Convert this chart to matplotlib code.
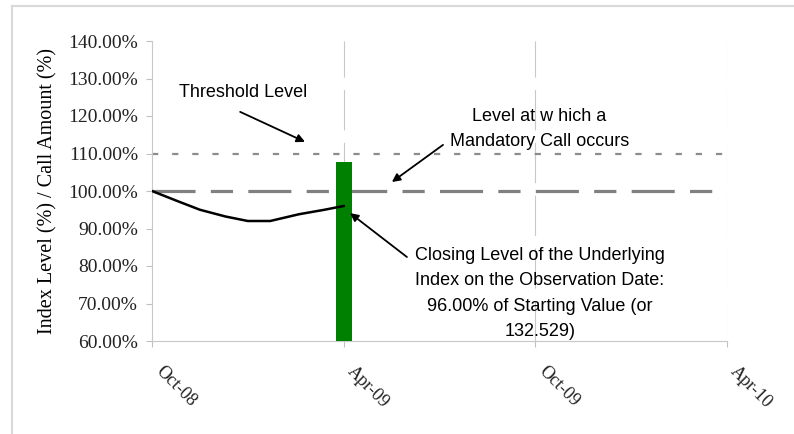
import numpy as np
import matplotlib
matplotlib.use('Agg')
import matplotlib.pyplot as plt
from matplotlib.lines import Line2D
from matplotlib.transforms import ScaledTranslation

plt.rcParams['lines.scale_dashes'] = False

# months after Oct-08
tick_pos = [0, 6, 12, 18]
tick_labels = ['Oct-08', 'Apr-09', 'Oct-09', 'Apr-10']
index_months = [0, 0.8, 1.5, 2.3, 3.0, 3.7, 4.6, 5.4, 6.0]
index_level = [100.0, 97.3, 95.0, 93.2, 92.0, 92.0, 93.8, 95.0, 96.0]
call_month = [6.0]
call_amount = [107.7]
threshold = 110.0
call_level = 100.0
y_ticks = [60, 70, 80, 90, 100, 110, 120, 130, 140]

serif = 'Liberation Serif'
sans = 'Liberation Sans'

fig = plt.figure(figsize=(7.94, 4.34), dpi=100)
ax = fig.add_axes([152/794, 1-341/434, 575/794, 300/434])

# outer chart border
fig.add_artist(Line2D([12/794, 12/794], [0, 1-6/434], color='#d9d9d9', lw=1.5))
fig.add_artist(Line2D([12/794, 1], [1-6/434, 1-6/434], color='#d9d9d9', lw=1.5))

ax.bar(call_month, [a - 60 for a in call_amount], bottom=60, width=0.5,
       color='#008000', zorder=3)
ax.plot([0, 18], [threshold, threshold], color='#8c8c8c', lw=1.6,
        dashes=(4.5, 10), zorder=2)
ax.plot([0, 18], [call_level, call_level], color='#808080', lw=2.3,
        dashes=(31, 11, 16, 11), zorder=2)
ax.plot(index_months, index_level, color='black', lw=1.8, zorder=4,
        solid_joinstyle='round')

for x in tick_pos[1:]:
    ax.axvline(x, color='#c8c8c8', lw=0.8, dashes=(29, 9), zorder=1)

ax.set_xlim(0, 18)
ax.set_ylim(60, 140)
ax.set_yticks(y_ticks)
ax.set_yticklabels(['%.2f%%' % v for v in y_ticks], fontsize=14,
                   family=serif, color='#222222')
ax.set_xticks(tick_pos)
ax.tick_params(axis='x', length=4, color='#c0c0c0', pad=12)
ax.tick_params(axis='y', length=4, color='#c0c0c0', pad=6)
ax.set_xticklabels(tick_labels, fontsize=13, family=serif, rotation=-45,
                   ha='left', va='top', rotation_mode='anchor', color='#222222')
shift = ScaledTranslation(12/100, 0, fig.dpi_scale_trans)
for lab in ax.get_xticklabels():
    lab.set_transform(lab.get_transform() + shift)
for s in ['top', 'right']:
    ax.spines[s].set_visible(False)
for s in ['left', 'bottom']:
    ax.spines[s].set_color('#c8c8c8')
ax.set_ylabel('Index Level (%) / Call Amount (%)', fontsize=14.5,
              family=serif)
ax.yaxis.set_label_coords(-0.165, 0.5)

arrow = dict(arrowstyle='-|>', color='black', lw=1.3, shrinkA=0, shrinkB=0,
             mutation_scale=12)

ax.text(2.85, 126.2, 'Threshold Level', fontsize=13, family=sans,
        ha='center', va='center')
ax.annotate('', xy=(4.79, 113.1), xytext=(2.76, 121.1), arrowprops=arrow)

ax.text(12.13, 122.2, 'Level at w hich a\nMandatory Call occurs', fontsize=13,
        family=sans, ha='center', va='top', linespacing=1.6)
ax.annotate('', xy=(7.51, 102.4), xytext=(9.11, 112.3), arrowprops=arrow)

ax.text(12.14, 85.0, 'Closing Level of the Underlying\n'
        'Index on the Observation Date:\n'
        '96.00% of Starting Value (or\n132.529)', fontsize=13, family=sans,
        ha='center', va='top', linespacing=1.63)
ax.annotate('', xy=(6.2, 94.1), xytext=(7.98, 82.4), arrowprops=arrow)

fig.savefig('out.png', dpi=100)
